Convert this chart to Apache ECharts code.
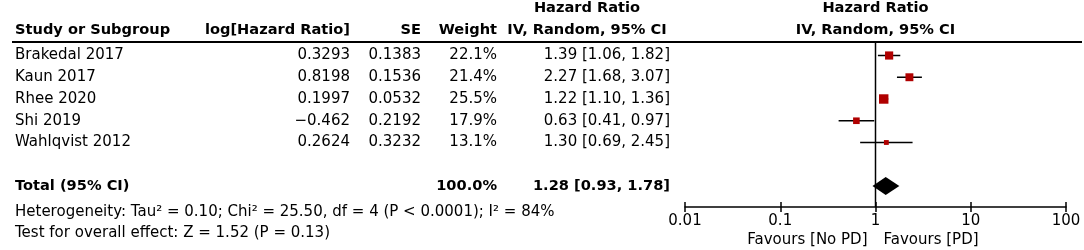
<!DOCTYPE html>
<html>
<head>
<meta charset="utf-8">
<script src="https://cdn.jsdelivr.net/npm/echarts@6/dist/echarts.min.js"></script>
<style>
  html, body { margin: 0; padding: 0; background: #fff; }
  #chart { width: 1084px; height: 250px; }
</style>
</head>
<body>
<div id="chart"></div>
<script>
// study rows
const studies = ['Brakedal 2017', 'Kaun 2017', 'Rhee 2020', 'Shi 2019', 'Wahlqvist 2012'];
const logHR = ['0.3293', '0.8198', '0.1997', '\u22120.462', '0.2624'];
const seText = ['0.1383', '0.1536', '0.0532', '0.2192', '0.3232'];
const weights = [22.1, 21.4, 25.5, 17.9, 13.1];
const hr = [1.39, 2.27, 1.22, 0.63, 1.30];
const ciLow = [1.06, 1.68, 1.10, 0.41, 0.69];
const ciHigh = [1.82, 3.07, 1.36, 0.97, 2.45];

// pooled estimate
const totalHR = 1.28;
const totalLow = 0.93;
const totalHigh = 1.78;
const totalWeight = '100.0%';
const totalRow = 6;

const xTicks = [0.01, 0.1, 1, 10, 100];
const heterogeneityText = 'Heterogeneity: Tau\u00b2 = 0.10; Chi\u00b2 = 25.50, df = 4 (P < 0.0001); I\u00b2 = 84%';
const overallText = 'Test for overall effect: Z = 1.52 (P = 0.13)';

const FONT = '"DejaVu Sans", Verdana, sans-serif';
const fmtCI = (a, b, c) => a.toFixed(2) + ' [' + b.toFixed(2) + ', ' + c.toFixed(2) + ']';

const yMin = -0.6207, yMax = 6.966;

const chart = echarts.init(document.getElementById('chart'));

const baseAxis = {
  type: 'log',
  logBase: 10,
  min: xTicks[0],
  max: xTicks[xTicks.length - 1],
  position: 'bottom',
  splitLine: { show: false }
};

chart.setOption({
  animation: false,
  grid: { left: 685, right: 18, top: 42, bottom: 43 },
  xAxis: [
    Object.assign({}, baseAxis, {
      axisLine: { show: true, onZero: false, lineStyle: { color: '#000', width: 1.5 } },
      axisTick: { show: true, length: 5, lineStyle: { color: '#000', width: 1.5 } },
      axisLabel: {
        show: true, margin: 7, color: '#000', fontSize: 15, fontFamily: FONT,
        formatter: v => String(+v.toPrecision(3))
      }
    }),
    Object.assign({}, baseAxis, {
      axisLine: { show: false, onZero: false },
      axisTick: { show: true, inside: true, length: 5, lineStyle: { color: '#000', width: 1.5 } },
      axisLabel: { show: false }
    })
  ],
  yAxis: { type: 'value', inverse: true, min: yMin, max: yMax, show: false },
  series: [
    {
      type: 'custom',
      name: 'null line',
      data: [[1, yMin, yMax]],
      renderItem: (params, api) => {
        const a = api.coord([api.value(0), api.value(1)]);
        const b = api.coord([api.value(0), api.value(2)]);
        return { type: 'line', shape: { x1: a[0], y1: a[1], x2: b[0], y2: b[1] },
                 style: { stroke: '#000', lineWidth: 1.5 } };
      }
    },
    {
      type: 'custom',
      name: 'studies',
      data: studies.map((s, i) => [hr[i], i, ciLow[i], ciHigh[i], weights[i]]),
      encode: { x: 0, y: 1 },
      renderItem: (params, api) => {
        const row = api.value(1);
        const c = api.coord([api.value(0), row]);
        const lo = api.coord([api.value(2), row]);
        const hi = api.coord([api.value(3), row]);
        const s = api.value(4) * 0.37;
        return {
          type: 'group',
          children: [
            { type: 'line', shape: { x1: lo[0], y1: lo[1], x2: hi[0], y2: hi[1] },
              style: { stroke: '#000', lineWidth: 1.5 } },
            { type: 'rect', shape: { x: c[0] - s / 2, y: c[1] - s / 2, width: s, height: s },
              style: { fill: '#b00000' } }
          ]
        };
      }
    },
    {
      type: 'custom',
      name: 'total',
      data: [[totalHR, totalRow, totalLow, totalHigh]],
      encode: { x: 0, y: 1 },
      renderItem: (params, api) => {
        const row = api.value(1);
        const c = api.coord([api.value(0), row]);
        const lo = api.coord([api.value(2), row]);
        const hi = api.coord([api.value(3), row]);
        return {
          type: 'polygon',
          shape: { points: [[lo[0], lo[1]], [c[0], c[1] - 9], [hi[0], hi[1]], [c[0], c[1] + 9]] },
          style: { fill: '#000' }
        };
      }
    }
  ]
});

// table text, positioned on the same row scale as the plot
const rowY = i => chart.convertToPixel({ yAxisIndex: 0 }, i);
const oneX = chart.convertToPixel({ xAxisIndex: 0 }, 1);

function txt(text, x, y, align, bold) {
  return {
    type: 'text',
    silent: true,
    style: {
      text: text, x: x, y: y,
      font: (bold ? 'bold 14.6px ' : '15px ') + FONT,
      fill: '#000',
      textAlign: align, align: align,
      textVerticalAlign: 'middle', verticalAlign: 'middle'
    }
  };
}

const g = [];
// headers
g.push(txt('Hazard Ratio', 587, 8, 'center', true));
g.push(txt('IV, Random, 95% CI', 587, 30, 'center', true));
g.push(txt('Hazard Ratio', oneX, 8, 'center', true));
g.push(txt('IV, Random, 95% CI', oneX, 30, 'center', true));
g.push(txt('Study or Subgroup', 15, 30, 'left', true));
g.push(txt('log[Hazard Ratio]', 350, 30, 'right', true));
g.push(txt('SE', 421, 30, 'right', true));
g.push(txt('Weight', 497, 30, 'right', true));
g.push({ type: 'line', silent: true, shape: { x1: 12, y1: 42, x2: 1082, y2: 42 },
         style: { stroke: '#000', lineWidth: 2 } });

studies.forEach((s, i) => {
  const y = rowY(i);
  g.push(txt(s, 15, y, 'left', false));
  g.push(txt(logHR[i], 350, y, 'right', false));
  g.push(txt(seText[i], 421, y, 'right', false));
  g.push(txt(weights[i].toFixed(1) + '%', 497, y, 'right', false));
  g.push(txt(fmtCI(hr[i], ciLow[i], ciHigh[i]), 670, y, 'right', false));
});

const ty = rowY(totalRow);
g.push(txt('Total (95% CI)', 15, ty, 'left', true));
g.push(txt(totalWeight, 497, ty, 'right', true));
g.push(txt(fmtCI(totalHR, totalLow, totalHigh), 670, ty, 'right', true));
g.push(txt(heterogeneityText, 15, 212.5, 'left', false));
g.push(txt(overallText, 15, 233, 'left', false));
g.push(txt('Favours [No PD]', oneX - 8, 240, 'right', false));
g.push(txt('Favours [PD]', oneX + 8, 240, 'left', false));

chart.setOption({ graphic: g });
</script>
</body>
</html>
